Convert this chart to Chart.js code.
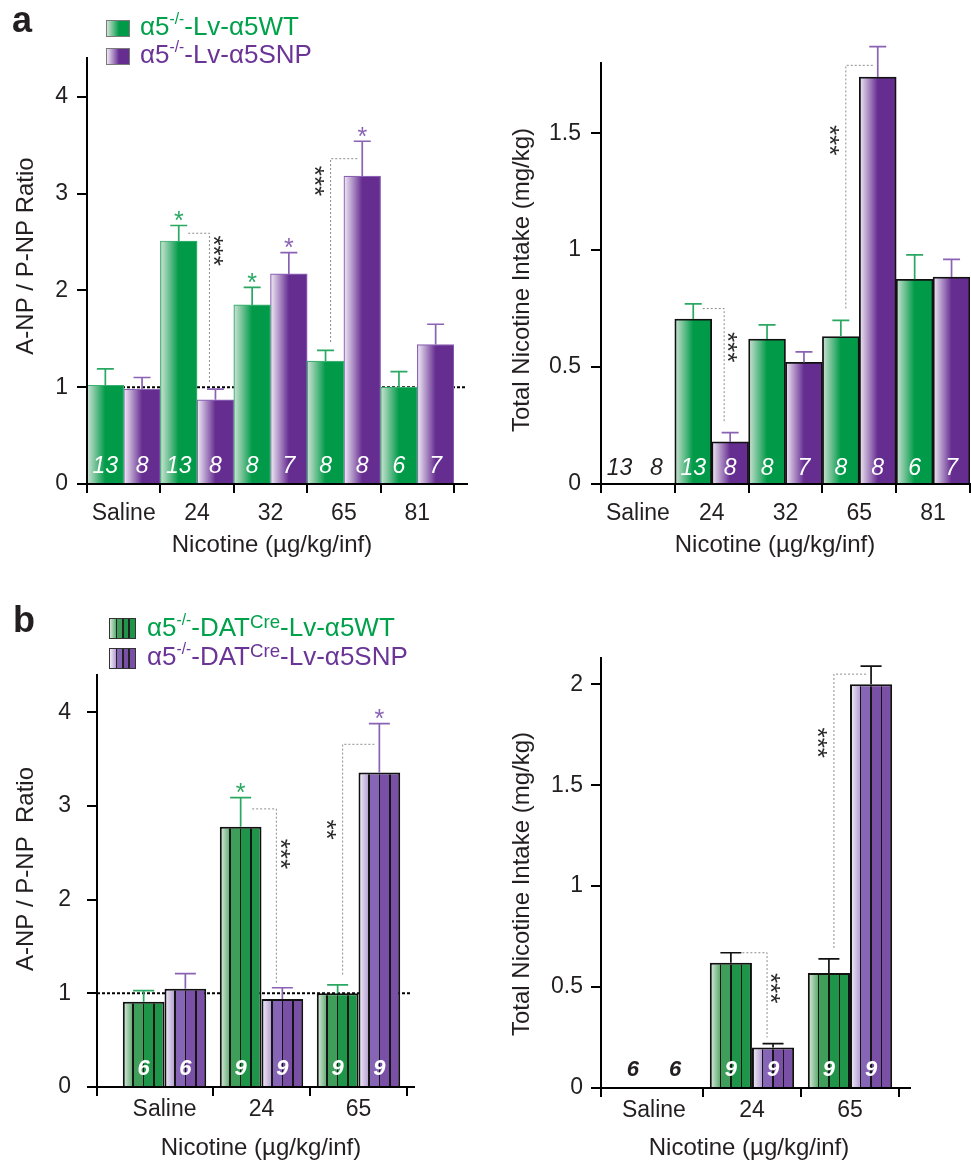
<!DOCTYPE html>
<html>
<head>
<meta charset="utf-8">
<script src="https://cdn.jsdelivr.net/npm/chart.js@4.4.1/dist/chart.umd.min.js"></script>
<style>
  body { margin: 0; background: #fff; }
  #fig { position: relative; width: 971px; height: 1165px; font-family: "Liberation Sans", Arial, sans-serif; color: #231f20; }
  #fig canvas { position: absolute; left: 0; top: 0; width: 971px; height: 1165px; }
  .tag { position: absolute; font-weight: bold; font-size: 36px; line-height: 1; }
  .leg { position: absolute; font-size: 26px; line-height: 1; white-space: nowrap; }
  .leg sup { font-size: 60%; position: relative; top: -0.7em; vertical-align: baseline; line-height: 0; }
  .leg sup.big { font-size: 72%; top: -0.45em; }
  .sw { position: absolute; box-sizing: border-box; border: 1px solid #7a7a7a; }
</style>
</head>
<body>
<div id="fig">
  <canvas id="aL" width="971" height="1165"></canvas>
  <canvas id="aR" width="971" height="1165"></canvas>
  <canvas id="bL" width="971" height="1165"></canvas>
  <canvas id="bR" width="971" height="1165"></canvas>

  <div class="tag" style="left:12px;top:2px">a</div>
  <div class="sw" style="left:106px;top:20px;width:24px;height:17px;background:linear-gradient(90deg,#d3e4d7 0%,#009a48 55%)"></div>
  <div class="leg" style="left:140px;top:13px;color:#00a14b">&alpha;5<sup>-/-</sup>-Lv-&alpha;5WT</div>
  <div class="sw" style="left:106px;top:48px;width:24px;height:17px;background:linear-gradient(90deg,#efe9f5 0%,#662d91 55%)"></div>
  <div class="leg" style="left:140px;top:41px;color:#6a3596">&alpha;5<sup>-/-</sup>-Lv-&alpha;5SNP</div>

  <div class="tag" style="left:13px;top:602px">b</div>
  <div class="sw" style="left:109px;top:618px;width:27px;height:21px;border-color:#333;background:linear-gradient(90deg,#d5e8d9 0%,#5faa72 24%,#222 24%,#222 30%,#3f9f5a 30%,#3f9f5a 49%,#222 49%,#222 55%,#1f9549 55%,#1f9549 74%,#222 74%,#222 80%,#1f9549 80%)"></div>
  <div class="leg" style="left:147px;top:614px;color:#00a14b">&alpha;5<sup>-/-</sup>-DAT<sup class="big">Cre</sup>-Lv-&alpha;5WT</div>
  <div class="sw" style="left:109px;top:648px;width:27px;height:21px;border-color:#333;background:linear-gradient(90deg,#f3eef8 0%,#b29dd0 24%,#222 24%,#222 30%,#8765b6 30%,#8765b6 49%,#222 49%,#222 55%,#7a4fa6 55%,#7a4fa6 74%,#222 74%,#222 80%,#7a4fa6 80%)"></div>
  <div class="leg" style="left:147px;top:643px;color:#6a3596">&alpha;5<sup>-/-</sup>-DAT<sup class="big">Cre</sup>-Lv-&alpha;5SNP</div>
</div>

<script>
// categories
const dosesA = ['Saline', '24', '32', '65', '81'];
const dosesB = ['Saline', '24', '65'];

// tick labels
const ratioTicks = [0, 1, 2, 3, 4];
const intakeTicksA = [0, 0.5, 1, 1.5];
const intakeTicksB = [0, 0.5, 1, 1.5, 2];

// a: A-NP / P-NP ratio (mean, s.e.m.)
const ratioA_wt = [1.02, 2.51, 1.85, 1.27, 1.00];
const ratioA_wtSem = [0.17, 0.16, 0.18, 0.11, 0.16];
const ratioA_snp = [0.98, 0.87, 2.17, 3.18, 1.44];
const ratioA_snpSem = [0.12, 0.11, 0.22, 0.36, 0.21];

// a: total nicotine intake (mg/kg)
const intakeA_wt = [0, 0.705, 0.62, 0.63, 0.875];
const intakeA_wtSem = [0, 0.065, 0.06, 0.07, 0.105];
const intakeA_snp = [0, 0.18, 0.52, 1.74, 0.885];
const intakeA_snpSem = [0, 0.04, 0.045, 0.13, 0.075];

const nA_wt = [13, 13, 8, 8, 6];
const nA_snp = [8, 8, 7, 8, 7];
const starsA_wt = ['', '*', '*', '', ''];
const starsA_snp = ['', '', '*', '*', ''];

// b: DAT-Cre rescue
const ratioB_wt = [0.91, 2.78, 1.0];
const ratioB_wtSem = [0.12, 0.31, 0.09];
const ratioB_snp = [1.05, 0.94, 3.36];
const ratioB_snpSem = [0.16, 0.12, 0.52];

const intakeB_wt = [0, 0.62, 0.57];
const intakeB_wtSem = [0, 0.05, 0.07];
const intakeB_snp = [0, 0.20, 2.0];
const intakeB_snpSem = [0, 0.02, 0.09];

const nB_wt = [6, 9, 9];
const nB_snp = [6, 9, 9];
const starsB_wt = ['', '*', ''];
const starsB_snp = ['', '', '*'];

// WT vs SNP comparisons: bracket top / bottom, which bar gets the vertical leg, label height
const pairsRatioA = [
  { i: 1, top: 2.59, bottom: 1.05, leg: 'snp', text: '***', at: 2.41 },
  { i: 3, top: 3.36, bottom: 1.45, leg: 'wt', text: '***', at: 3.13 },
];
const pairsIntakeA = [
  { i: 1, top: 0.75, bottom: 0.265, leg: 'snp', text: '***', at: 0.585 },
  { i: 3, top: 1.79, bottom: 0.75, leg: 'wt', text: '***', at: 1.47 },
];
const pairsRatioB = [
  { i: 1, top: 2.97, bottom: 1.11, leg: 'snp', text: '***', at: 2.49 },
  { i: 2, top: 3.66, bottom: 1.2, leg: 'wt', text: '**', at: 2.75 },
];
const pairsIntakeB = [
  { i: 1, top: 0.67, bottom: 0.25, leg: 'snp', text: '***', at: 0.495 },
  { i: 2, top: 2.05, bottom: 0.69, leg: 'wt', text: '***', at: 1.71 },
];

const FONT = '"Liberation Sans", Arial, sans-serif';
const INK = '#231f20';
const GREEN = '#009a48';
const PURPLE = '#662d91';
const W = 971, H = 1165, YW = 60, XH = 50;

// stripe colours for the b bars: first stripe is a gradient, then three flat ones
const STRIPES_WT = ['#e2eee4', '#67ae78', '#3f9f5a', '#1f9549', '#1f9549'];
const STRIPES_SNP = ['#f6f2fa', '#b7a3d4', '#8765b6', '#7a4fa6', '#7a4fa6'];

const PANELS = {
  aL: {
    area: [87, 58, 454, 484], ext: 14, pad: 0, cp: 1, look: 'a', ymax: 4.4, ticks: ratioTicks,
    labels: dosesA, wt: ratioA_wt, wtSem: ratioA_wtSem, snp: ratioA_snp, snpSem: ratioA_snpSem,
    nWt: nA_wt, nSnp: nA_snp, starsWt: starsA_wt, starsSnp: starsA_snp, pairs: pairsRatioA, refLine: 1,
    edge: ['#3bb070', '#8a62b4'], edgeW: 1.2, whisker: ['#2aa862', '#8a62b4'], cap: 8.5,
    nFont: 'italic 23px ' + FONT, nLift: 11, tickPadX: 7, tickPadY: 9,
    yTitle: ['A-NP / P-NP Ratio', 26, 256], xTitle: ['Nicotine (\u00b5g/kg/inf)', 272, 552],
  },
  aR: {
    area: [601, 63, 970, 484], ext: 0, pad: 0, cp: 1, look: 'a', ymax: 1.8, ticks: intakeTicksA,
    labels: dosesA, wt: intakeA_wt, wtSem: intakeA_wtSem, snp: intakeA_snp, snpSem: intakeA_snpSem,
    nWt: nA_wt, nSnp: nA_snp, starsWt: [], starsSnp: [], pairs: pairsIntakeA, refLine: null,
    edge: ['#111', '#111'], edgeW: 1.8, whisker: ['#2aa862', '#8a62b4'], cap: 8.5,
    nFont: 'italic 23px ' + FONT, nLift: 9, tickPadX: 7, tickPadY: 10,
    yTitle: ['Total Nicotine Intake (mg/kg)', 522, 280], xTitle: ['Nicotine (\u00b5g/kg/inf)', 775, 552],
  },
  bL: {
    area: [97, 675, 407, 1087], ext: 8, pad: 0.196, cp: 0.86, look: 'b', ymax: 4.4, ticks: ratioTicks,
    labels: dosesB, wt: ratioB_wt, wtSem: ratioB_wtSem, snp: ratioB_snp, snpSem: ratioB_snpSem,
    nWt: nB_wt, nSnp: nB_snp, starsWt: starsB_wt, starsSnp: starsB_snp, pairs: pairsRatioB, refLine: 1,
    edge: ['#111', '#111'], edgeW: 2, whisker: ['#2aa862', '#8a62b4'], cap: 10.5,
    nFont: 'italic bold 22px ' + FONT, nLift: 12, tickPadX: 0, tickPadY: 16,
    yTitle: ['A-NP / P-NP  Ratio', 26, 869], xTitle: ['Nicotine (\u00b5g/kg/inf)', 261, 1155],
  },
  bR: {
    area: [601, 658, 899, 1088], ext: 12, pad: 0.04, cp: 0.86, look: 'b', ymax: 2.13, ticks: intakeTicksB,
    labels: dosesB, wt: intakeB_wt, wtSem: intakeB_wtSem, snp: intakeB_snp, snpSem: intakeB_snpSem,
    nWt: nB_wt, nSnp: nB_snp, starsWt: [], starsSnp: [], pairs: pairsIntakeB, refLine: null,
    edge: ['#111', '#111'], edgeW: 2, whisker: ['#111', '#111'], cap: 10.5,
    nFont: 'italic bold 22px ' + FONT, nLift: 12, tickPadX: 0, tickPadY: 8,
    yTitle: ['Total Nicotine Intake (mg/kg)', 522, 884], xTitle: ['Nicotine (\u00b5g/kg/inf)', 749, 1155],
  },
};

// per-bar gradient, placed from the x scale so it lines up with each bar
function barFill(p, k) {
  const solid = k ? PURPLE : GREEN;
  return (c) => {
    if (c.type !== 'data') return solid;
    const x = c.chart.scales.x;
    if (!x) return solid;
    const step = x.getPixelForValue(1) - x.getPixelForValue(0);
    const w = step * p.cp / 2;
    const left = x.getPixelForValue(c.dataIndex) - w + k * w;
    if (!isFinite(left) || !isFinite(w) || w <= 0) return solid;
    const g = c.chart.ctx.createLinearGradient(left, 0, left + w, 0);
    if (p.look === 'a') {
      g.addColorStop(0, k ? '#f1ecf6' : '#cfe3d5');
      g.addColorStop(0.5, solid);
      g.addColorStop(1, solid);
      return g;
    }
    const s = k ? STRIPES_SNP : STRIPES_WT;
    const h = 0.8 / w;
    const DIV = '#151515';
    g.addColorStop(0, s[0]);
    g.addColorStop(0.25 - h, s[1]);
    g.addColorStop(0.25 - h, DIV); g.addColorStop(0.25 + h, DIV);
    g.addColorStop(0.25 + h, s[2]); g.addColorStop(0.5 - h, s[2]);
    g.addColorStop(0.5 - h, DIV); g.addColorStop(0.5 + h, DIV);
    g.addColorStop(0.5 + h, s[3]); g.addColorStop(0.75 - h, s[3]);
    g.addColorStop(0.75 - h, DIV); g.addColorStop(0.75 + h, DIV);
    g.addColorStop(0.75 + h, s[4]); g.addColorStop(1, s[4]);
    return g;
  };
}

const decor = {
  id: 'decor',
  beforeDatasetsDraw(chart) {
    const p = PANELS[chart.canvas.id];
    if (p.refLine == null) return;
    const { ctx, chartArea: a } = chart;
    const py = chart.scales.y.getPixelForValue(p.refLine);
    ctx.save();
    ctx.strokeStyle = '#000';
    ctx.lineWidth = 2;
    ctx.setLineDash([3, 2]);
    ctx.beginPath();
    ctx.moveTo(a.left, py);
    ctx.lineTo(a.right + p.ext - 3, py);
    ctx.stroke();
    ctx.restore();
  },
  afterDatasetsDraw(chart) {
    const p = PANELS[chart.canvas.id];
    const { ctx, chartArea: a } = chart;
    const y = chart.scales.y;
    const base = y.getPixelForValue(0);
    ctx.save();

    // axes again on top of the bar edges, with the stub past the last group
    ctx.strokeStyle = '#000';
    ctx.lineWidth = 2;
    ctx.beginPath();
    ctx.moveTo(a.left - 10, base);
    ctx.lineTo(a.right + p.ext, base);
    ctx.moveTo(a.left, a.top);
    ctx.lineTo(a.left, base + 9);
    ctx.stroke();

    ctx.textAlign = 'center';
    chart.data.datasets.forEach((ds, k) => {
      const bars = chart.getDatasetMeta(k).data;
      bars.forEach((bar, i) => {
        const v = ds.data[i];
        const s = ds.sem[i];
        const tip = y.getPixelForValue(v + s);
        if (s > 0) {
          ctx.strokeStyle = p.whisker[k];
          ctx.lineWidth = 1.7;
          ctx.beginPath();
          ctx.moveTo(bar.x, bar.y);
          ctx.lineTo(bar.x, tip);
          ctx.moveTo(bar.x - p.cap, tip);
          ctx.lineTo(bar.x + p.cap, tip);
          ctx.stroke();
        }
        if (ds.stars[i]) {
          ctx.fillStyle = p.whisker[k];
          ctx.font = '25px ' + FONT;
          ctx.textBaseline = 'alphabetic';
          ctx.fillText(ds.stars[i], bar.x, tip - 11 + 0.57 * 25);
        }
        ctx.fillStyle = v > 0 ? '#fff' : INK;
        ctx.font = p.nFont;
        ctx.textBaseline = 'alphabetic';
        ctx.fillText(String(ds.n[i]), bar.x, base - p.nLift);
      });
    });

    // dotted comparison brackets
    const wtBars = chart.getDatasetMeta(0).data;
    const snpBars = chart.getDatasetMeta(1).data;
    p.pairs.forEach((q) => {
      const wt = wtBars[q.i], snp = snpBars[q.i];
      const yTop = y.getPixelForValue(q.top);
      const yBot = y.getPixelForValue(q.bottom);
      const yLab = y.getPixelForValue(q.at);
      let vx, hx, lx;
      if (q.leg === 'snp') {
        vx = snp.x - 6; hx = wt.x + p.cap + 1; lx = vx + 10;
      } else {
        vx = wt.x + 5; hx = snp.x - 5; lx = vx - 10;
      }
      ctx.strokeStyle = '#8c8c8c';
      ctx.lineWidth = 1;
      ctx.setLineDash([2, 2]);
      ctx.beginPath();
      ctx.moveTo(hx, yTop);
      ctx.lineTo(vx, yTop);
      ctx.lineTo(vx, yBot);
      ctx.stroke();
      ctx.setLineDash([]);
      ctx.save();
      ctx.translate(lx, yLab);
      ctx.rotate(Math.PI / 2);
      ctx.fillStyle = '#2a2a2a';
      ctx.font = '26px ' + FONT;
      ctx.textBaseline = 'alphabetic';
      ctx.fillText(q.text, 0, 0.57 * 26);
      ctx.restore();
    });
    ctx.restore();
  },
  afterDraw(chart) {
    const p = PANELS[chart.canvas.id];
    const ctx = chart.ctx;
    ctx.save();
    ctx.fillStyle = INK;
    ctx.font = '24px ' + FONT;
    ctx.textAlign = 'center';
    ctx.textBaseline = 'alphabetic';
    ctx.fillText(p.xTitle[0], p.xTitle[1], p.xTitle[2]);
    ctx.translate(p.yTitle[1], p.yTitle[2]);
    ctx.rotate(-Math.PI / 2);
    ctx.textBaseline = 'middle';
    ctx.fillText(p.yTitle[0], 0, 0);
    ctx.restore();
  },
};

function drawPanel(id) {
  const p = PANELS[id];
  const [L, T, R, B] = p.area;
  return new Chart(document.getElementById(id), {
    type: 'bar',
    data: {
      labels: p.labels,
      datasets: [
        {
          label: 'WT', data: p.wt, sem: p.wtSem, n: p.nWt, stars: p.starsWt,
          backgroundColor: barFill(p, 0), borderColor: p.edge[0], borderWidth: p.edgeW,
        },
        {
          label: 'SNP', data: p.snp, sem: p.snpSem, n: p.nSnp, stars: p.starsSnp,
          backgroundColor: barFill(p, 1), borderColor: p.edge[1], borderWidth: p.edgeW,
        },
      ],
    },
    options: {
      responsive: false,
      animation: false,
      events: [],
      layout: { padding: { left: L - YW, top: T, right: W - R, bottom: H - B - XH } },
      datasets: { bar: { barPercentage: 1, categoryPercentage: p.cp } },
      plugins: { legend: { display: false }, tooltip: { enabled: false } },
      scales: {
        x: {
          afterFit: (s) => { s.height = XH; },
          afterBuildTicks: (s) => { s._startValue -= p.pad; s._valueRange += p.pad; },
          grid: {
            drawOnChartArea: false, tickLength: 9, lineWidth: 2,
            color: (c) => (c.type === 'tick' && c.index === 0 ? 'rgba(0,0,0,0)' : '#000'),
          },
          border: { display: true, color: '#000', width: 2 },
          ticks: { font: { family: FONT, size: 23 }, color: INK, padding: p.tickPadX, autoSkip: false, maxRotation: 0 },
        },
        y: {
          min: 0,
          max: p.ymax,
          afterFit: (s) => { s.width = YW; },
          afterBuildTicks: (s) => { s.ticks = p.ticks.map((v) => ({ value: v })); },
          grid: { drawOnChartArea: false, tickLength: 10, lineWidth: 2, color: '#000' },
          border: { display: true, color: '#000', width: 2 },
          ticks: { font: { family: FONT, size: 23 }, color: INK, padding: p.tickPadY, callback: (v) => String(v) },
        },
      },
    },
    plugins: [decor],
  });
}

['aL', 'aR', 'bL', 'bR'].forEach(drawPanel);
</script>
</body>
</html>
